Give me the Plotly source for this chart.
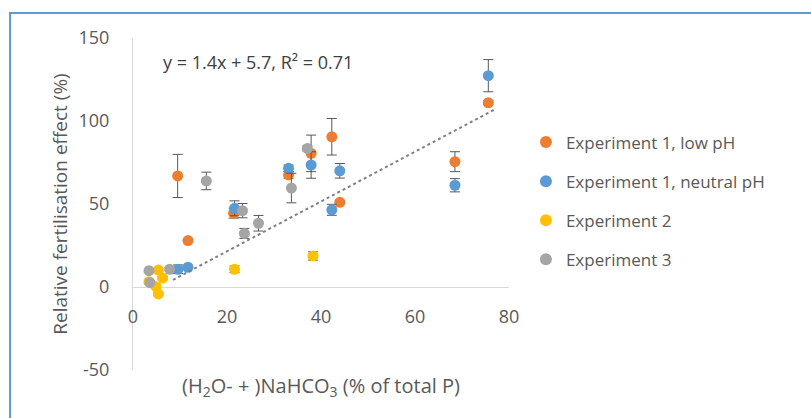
import plotly.graph_objects as go

# ---- data ----
exp1_low_x = [9.5, 11.7, 21.4, 33.1, 37.9, 42.3, 44.0, 68.5, 75.6]
exp1_low_y = [66.9, 28.0, 44.5, 67.5, 80.5, 90.5, 51.0, 75.5, 111.0]
exp1_low_err = [13, 1.2, 3, 2, 11, 11, 1.2, 6, 1.2]

exp1_neu_x = [9.6, 11.7, 21.6, 33.1, 37.9, 42.3, 44.0, 68.5, 75.6]
exp1_neu_y = [10.7, 11.9, 47.4, 71.5, 73.5, 46.5, 70.0, 61.3, 127.3]
exp1_neu_err = [2.6, 1.2, 4.5, 2, 8, 3.3, 4.4, 4, 9.7]

exp2_x = [3.4, 5.4, 6.3, 4.9, 5.4, 21.6, 38.3]
exp2_y = [3.2, 10.2, 5.4, 0.2, -4.2, 10.7, 18.7]
exp2_err = [1, 1, 1, 1, 1, 2, 2.5]

exp3_x = [3.4, 3.6, 7.8, 15.6, 23.3, 23.7, 26.7, 33.7, 37.1]
exp3_y = [9.8, 2.6, 10.7, 63.9, 46.0, 32.3, 38.4, 59.6, 83.5]
exp3_err = [1, 1, 1, 5.3, 4.3, 3, 4.7, 8.9, 1.5]

x_tick_vals = [0, 20, 40, 60, 80]
x_tick_text = ["0", "20", "40", "60", "80"]
y_tick_vals = [-50, 0, 50, 100, 150]
y_tick_text = ["-50", "0", "50", "100", "150"]

trend_slope = 1.5
trend_intercept = -8.5
trend_x_range = [8.5, 77.3]
equation_text = "y = 1.4x + 5.7, R² = 0.71"

series = [
    ("Experiment 1, low pH", exp1_low_x, exp1_low_y, exp1_low_err, "#ED7D31"),
    ("Experiment 1, neutral pH", exp1_neu_x, exp1_neu_y, exp1_neu_err, "#5B9BD5"),
    ("Experiment 2", exp2_x, exp2_y, exp2_err, "#FFC000"),
    ("Experiment 3", exp3_x, exp3_y, exp3_err, "#A5A5A5"),
]

FONT = "Open Sans, Noto Sans, sans-serif"
TXT = "#595959"

fig = go.Figure()
for i, (name, xs, ys, es, col) in enumerate(series):
    fig.add_trace(go.Scatter(
        x=xs, y=ys, mode="markers", name=name, legendgroup=str(i),
        marker=dict(color=col, size=11, line=dict(width=0)),
        error_y=dict(type="data", array=es, visible=True, color="#595959",
                     thickness=1, width=5),
    ))

tx = trend_x_range
fig.add_trace(go.Scatter(
    x=tx, y=[trend_slope * v + trend_intercept for v in tx],
    mode="lines", line=dict(color="#808080", width=2, dash="dot"),
    showlegend=False, hoverinfo="skip",
))

fig.add_annotation(x=26.5, y=135.5, xref="x", yref="y", text=equation_text,
                   showarrow=False, font=dict(family=FONT, size=18, color="#404040"))

fig.add_shape(type="rect", xref="paper", yref="paper",
              x0=-0.327, x1=2.0, y0=-1.0, y1=1.075,
              line=dict(color="#5B9BD5", width=2), fillcolor="rgba(0,0,0,0)")

fig.update_layout(
    width=811, height=418,
    margin=dict(l=133, r=302, t=38, b=48),
    paper_bgcolor="white", plot_bgcolor="white",
    font=dict(family=FONT, color=TXT),
    showlegend=True,
    legend=dict(x=1.045, y=0.509, xanchor="left", yanchor="middle",
                font=dict(family=FONT, size=17, color=TXT),
                tracegroupgap=14, itemsizing="constant",
                bgcolor="rgba(0,0,0,0)"),
    xaxis=dict(range=[0, 80], tickmode="array", tickvals=x_tick_vals, ticktext=x_tick_text,
               anchor="free", position=0.2,
               showline=False, zeroline=False, showgrid=False, ticks="",
               tickfont=dict(family=FONT, size=18, color=TXT),
               title=dict(text="(H<sub>2</sub>O- + )NaHCO<sub>3</sub> (% of total P)",
                          font=dict(family=FONT, size=20, color=TXT), standoff=52)),
    yaxis=dict(range=[-50, 150], tickmode="array", tickvals=y_tick_vals, ticktext=y_tick_text,
               showline=True, linecolor="#d9d9d9",
               linewidth=1, zeroline=True, zerolinecolor="#d9d9d9", zerolinewidth=1,
               showgrid=False, ticks="", ticklabelstandoff=19,
               tickfont=dict(family=FONT, size=18, color=TXT),
               title=dict(text="Relative fertilisation effect (%)",
                          font=dict(family=FONT, size=19, color=TXT), standoff=5)),
)

fig.write_html("out.html", config={"displayModeBar": False})

# remove default browser body margin so the figure sits at the page origin
with open("out.html", "r", encoding="utf-8") as f:
    html = f.read()
html = html.replace("<head>", "<head><style>html,body{margin:0;padding:0;overflow:hidden}</style>", 1)
with open("out.html", "w", encoding="utf-8") as f:
    f.write(html)
